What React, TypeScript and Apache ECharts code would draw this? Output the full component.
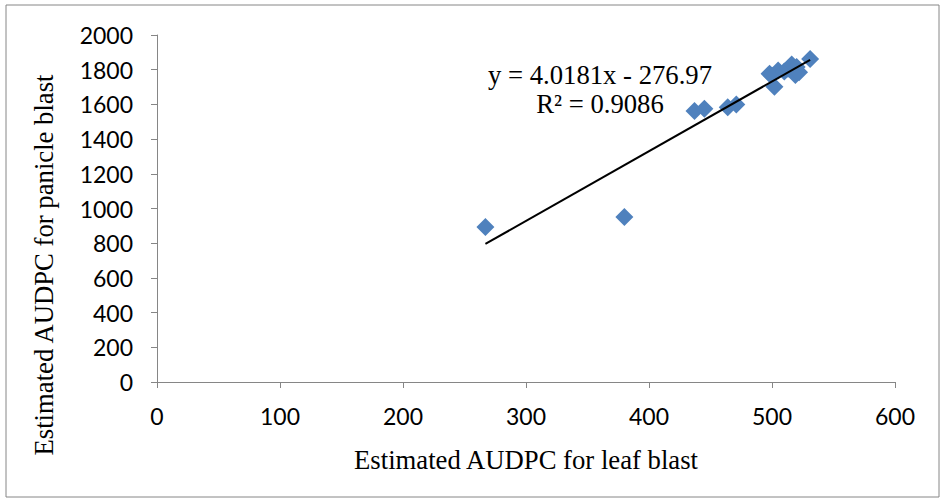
import React, { useEffect, useRef } from "react";
import * as echarts from "echarts";

const leafBlast = [267, 380, 437, 445, 464, 471, 498, 500, 502, 505, 510, 513, 516, 519, 520, 522, 531];
const panicleBlast = [893, 951, 1562, 1575, 1584, 1600, 1777, 1765, 1702, 1795, 1790, 1805, 1830, 1770, 1815, 1785, 1862];
const slope = 4.0181;
const intercept = -276.97;
const trendX = [267, 531];
const equationText = "y = 4.0181x - 276.97";
const r2Text = "R² = 0.9086";
const xTitle = "Estimated AUDPC for leaf blast";
const yTitle = "Estimated AUDPC for panicle blast";

export default function App() {
  const ref = useRef<HTMLDivElement>(null);
  useEffect(() => {
    if (!ref.current) return;
    const chart = echarts.init(ref.current, undefined, { renderer: "svg" });
    const pts = leafBlast.map((x, i) => [x, panicleBlast[i]]);
    const trend = trendX.map((x) => [x, slope * x + intercept]);
    const axisColor = "#868686";
    const serif = "'Liberation Serif', 'Times New Roman', serif";
    chart.setOption({
      animation: false,
      backgroundColor: "#fff",
      grid: { left: 157, right: 50, top: 35, bottom: 119 },
      xAxis: {
        type: "value",
        min: 0,
        max: 600,
        interval: 100,
        name: xTitle,
        nameLocation: "middle",
        nameGap: 64,
        nameTextStyle: { fontFamily: serif, fontSize: 26.7, color: "#000" },
        axisLine: { show: true, lineStyle: { color: axisColor, width: 1 } },
        axisTick: { show: true, inside: false, length: 6, lineStyle: { color: axisColor } },
        axisLabel: { fontFamily: "Lato", fontSize: 23, color: "#000", margin: 22, formatter: (v: number) => String(v) },
        splitLine: { show: false },
      },
      yAxis: {
        type: "value",
        min: 0,
        max: 2000,
        interval: 200,
        axisLine: { show: true, lineStyle: { color: axisColor, width: 1 } },
        axisTick: { show: true, inside: false, length: 6, lineStyle: { color: axisColor } },
        axisLabel: { fontFamily: "Lato", fontSize: 23, color: "#000", margin: 24, formatter: (v: number) => String(v) },
        splitLine: { show: false },
      },
      series: [
        {
          type: "scatter",
          data: pts,
          symbol: "diamond",
          symbolSize: 18,
          itemStyle: { color: "#4F81BD", opacity: 1 },
          z: 2,
        },
        {
          type: "line",
          data: trend,
          symbol: "none",
          lineStyle: { color: "#000", width: 2 },
          z: 3,
        },
      ],
      graphic: [
        {
          type: "rect",
          shape: { x: 6, y: 5, width: 933, height: 492 },
          style: { fill: "none", stroke: "#868686", lineWidth: 1 },
          silent: true,
        },
        {
          type: "text",
          x: 44,
          y: 265,
          rotation: Math.PI / 2,
          style: { text: yTitle, font: "26.7px 'Liberation Serif'", fill: "#000", align: "center", verticalAlign: "middle" },
        },
        {
          type: "text",
          x: 600,
          y: 75,
          style: { text: equationText, font: "26.7px 'Liberation Serif'", fill: "#000", align: "center", verticalAlign: "middle" },
        },
        {
          type: "text",
          x: 600,
          y: 104,
          style: { text: r2Text, font: "26.7px 'Liberation Serif'", fill: "#000", align: "center", verticalAlign: "middle" },
        },
      ],
    });
    return () => chart.dispose();
  }, []);
  return (
    <div style={{ position: "absolute", left: 0, top: 0 }}>
      <div ref={ref} style={{ width: 945, height: 501 }} />
    </div>
  );
}
